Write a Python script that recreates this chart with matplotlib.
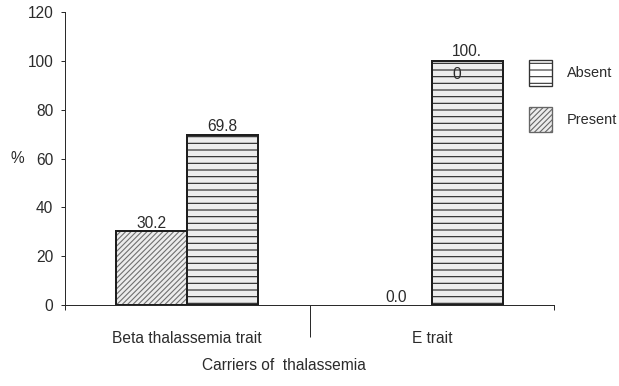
import textwrap
import matplotlib
matplotlib.use("Agg")
import matplotlib.pyplot as plt
import matplotlib.patches as mpatches
import numpy as np

# data
categories = ["Beta thalassemia trait", "E trait"]
present = [30.2, 0.0]
absent = [69.8, 100.0]
series_names = ["Absent", "Present"]
yticks = [0, 20, 40, 60, 80, 100, 120]

plt.rcParams['font.family'] = ['Liberation Sans', 'DejaVu Sans']
plt.rcParams['font.size'] = 14
plt.rcParams['hatch.linewidth'] = 1.0
ink = "#2b2b2b"

DPI = 80
fig = plt.figure(figsize=(619 / DPI, 386 / DPI), dpi=DPI)
ax = fig.add_axes([0.105, 0.2098, 0.790, 0.7591])

x = np.arange(len(categories))
w = 0.29
fs = 14
lsp = 1.66

present_style = dict(hatch="/////", color="#707070")
absent_style = dict(hatch="--", color="#222222")

# hatch fill first (hatch takes the edge colour), then a thick outline on top
for xs, vals, st in [(x - w / 2, present, present_style), (x + w / 2, absent, absent_style)]:
    ax.bar(xs, vals, w, facecolor="#ececec", edgecolor=st["color"], hatch=st["hatch"], linewidth=0)
    ax.bar(xs, vals, w, fill=False, edgecolor="#1e1e1e",
           linewidth=[1.8 if v > 0 else 0 for v in vals])
    for xi, v in zip(xs, vals):
        lab = textwrap.fill(f"{v:.1f}", 4)
        # va=baseline follows the last line; push wrapped labels down so
        # the first line sits just above the bar top
        nl = lab.count("\n")
        ax.annotate(lab, (xi, v), xytext=(0, 3 - nl * lsp * fs * 0.83), textcoords="offset points",
                    ha="center", va="baseline", multialignment="left", linespacing=lsp,
                    color=ink, fontsize=fs)

ax.set_xlim(-0.5, 1.5)
ax.set_ylim(0, 120)
ax.set_yticks(yticks)

for s in ["top", "right"]:
    ax.spines[s].set_visible(False)
for s in ["left", "bottom"]:
    ax.spines[s].set_color(ink)
    ax.spines[s].set_linewidth(0.9)

ax.tick_params(axis="y", direction="out", length=3.5, width=0.9, color=ink, labelcolor=ink, pad=7)
ax.set_xticks(x)
ax.set_xticklabels(categories)
ax.tick_params(axis="x", which="major", length=0, pad=23, labelcolor=ink)
ax.set_xticks([-0.5, 0.5, 1.5], minor=True)
ax.tick_params(axis="x", which="minor", direction="out", length=4.5, width=0.9, color=ink)
# group divider is a longer tick
ax.xaxis.get_minor_ticks()[1].tick1line.set_markersize(29)

ax.set_xlabel("Carriers of  thalassemia", color=ink)
ax.xaxis.set_label_coords(0.448, -0.18)
ax.set_ylabel("%", rotation=0, color=ink, ha="center", va="center")
ax.yaxis.set_label_coords(-0.098, 0.5)

handles = [
    mpatches.Patch(facecolor="white", edgecolor="#333333", hatch="--", linewidth=1.2),
    mpatches.Patch(facecolor="#ececec", edgecolor="#666666", hatch="/////", linewidth=1.2),
]
fig.legend(handles, series_names, loc="upper left", bbox_to_anchor=(0.8546, 0.8446),
           frameon=False, borderpad=0, borderaxespad=0, handlelength=1.6, handleheight=2.35,
           labelspacing=1.45, handletextpad=1.0, labelcolor=ink, fontsize=13)

fig.savefig("out.png", dpi=DPI)
